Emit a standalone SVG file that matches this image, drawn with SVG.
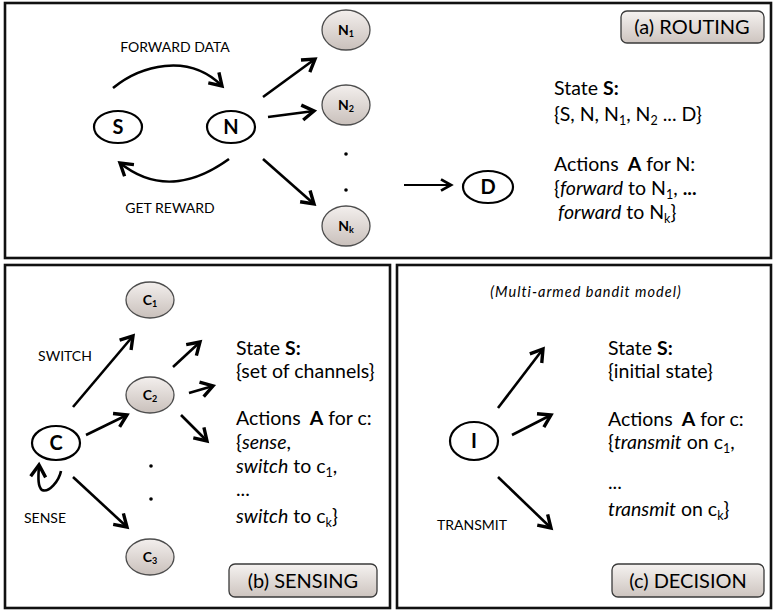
<svg xmlns="http://www.w3.org/2000/svg" width="774" height="611" viewBox="0 0 774 611">
  <defs>
    <linearGradient id="gNode" x1="0" y1="0" x2="0" y2="1">
      <stop offset="0" stop-color="#f3efed"/>
      <stop offset="1" stop-color="#c9c0bb"/>
    </linearGradient>
    <linearGradient id="gBox" x1="0" y1="0" x2="0" y2="1">
      <stop offset="0" stop-color="#f5f2f0"/>
      <stop offset="1" stop-color="#cdc4bf"/>
    </linearGradient>
    <marker id="ah" markerUnits="userSpaceOnUse" markerWidth="20" markerHeight="20" viewBox="-12 -8 14 16" refX="0" refY="0" orient="auto">
      <path d="M-9.5,-6 L0,0 L-9.5,6" fill="none" stroke="#000" stroke-width="2.7" stroke-linejoin="miter"/>
    </marker>
    <marker id="ahs" markerUnits="userSpaceOnUse" markerWidth="20" markerHeight="20" viewBox="-12 -8 14 16" refX="0" refY="0" orient="auto">
      <path d="M-8,-4.5 L0,0 L-8,4.5" fill="none" stroke="#000" stroke-width="2.2"/>
    </marker>
  </defs>
  <style>
    text { font-family: Lato, "Liberation Sans", sans-serif; fill: #000; }
    .panel { fill: #fff; stroke: #111; stroke-width: 2.6; }
    .wn { fill: #fff; stroke: #000; stroke-width: 2.2; }
    .gn { fill: url(#gNode); stroke: #4d4d4d; stroke-width: 1.3; }
    .box { fill: url(#gBox); stroke: #3a3a3a; stroke-width: 1.3; }
    .lbl { font-size: 20px; font-weight: bold; text-anchor: middle; }
    .glbl { font-size: 14px; font-weight: bold; text-anchor: middle; }
    .sub { font-size: 9px; }
    .cap { font-size: 14px; text-anchor: middle; }
    .body { font-size: 19.5px; }
    .bsub { font-size: 12.5px; }
    .title { font-size: 20px; text-anchor: middle; }
    .note { font-size: 14.5px; font-style: italic; letter-spacing: 1px; text-anchor: middle; }
    .arr { fill: none; stroke: #000; stroke-width: 2.6; marker-end: url(#ah); }
    .dot { fill: #000; }
  </style>

  <!-- panels -->
  <rect class="panel" x="5" y="3" width="766" height="255"/>
  <rect class="panel" x="5" y="265" width="385" height="343"/>
  <rect class="panel" x="397" y="265" width="374" height="343"/>

  <!-- connectors -->
  <g id="connectors">
    <path class="arr" d="M113,88 C140,66 188,52 222,86"/>
    <path class="arr" d="M229,159 C200,180 160,195 120,163"/>
    <path class="arr" d="M263,97 L315,59"/>
    <path class="arr" d="M268,117 L314,111"/>
    <path class="arr" d="M263,159 L314,204"/>
    <path fill="none" stroke="#000" stroke-width="2.2" marker-end="url(#ahs)" d="M404,185 L451,185"/>
    <circle class="dot" cx="346" cy="154" r="1.8"/>
    <circle class="dot" cx="346" cy="190" r="1.8"/>

    <path class="arr" d="M73,407 L133,336"/>
    <path class="arr" d="M86,435 L127,415"/>
    <path class="arr" d="M73,477 L127,527"/>
    <path class="arr" d="M61,471 C59,481 49,493 42,490 C38,487 38,479 39,465"/>
    <path class="arr" d="M173,367 L200,342"/>
    <path class="arr" d="M189,393 L213,386"/>
    <path class="arr" d="M181,415 L207,441"/>
    <circle class="dot" cx="151" cy="466" r="1.8"/>
    <circle class="dot" cx="151" cy="499" r="1.8"/>

    <path class="arr" d="M498,408 L543,349"/>
    <path class="arr" d="M512,435 L551,415"/>
    <path class="arr" d="M498,477 L551,528"/>
  </g>

  <!-- panel (a) -->
  <g id="node-S"><ellipse class="wn" cx="118" cy="127" rx="24" ry="16"/><text class="lbl" x="118" y="134">S</text></g>
  <g id="node-N"><ellipse class="wn" cx="231" cy="127" rx="24" ry="16"/><text class="lbl" x="231" y="134">N</text></g>
  <g id="node-N1"><ellipse class="gn" cx="346" cy="30" rx="24" ry="20"/><text class="glbl" x="346" y="35">N<tspan class="sub" dy="2">1</tspan></text></g>
  <g id="node-N2"><ellipse class="gn" cx="346" cy="105" rx="24" ry="20"/><text class="glbl" x="346" y="110">N<tspan class="sub" dy="2">2</tspan></text></g>
  <g id="node-Nk"><ellipse class="gn" cx="346" cy="226" rx="24" ry="20"/><text class="glbl" x="346" y="231">N<tspan class="sub" dy="2">k</tspan></text></g>
  <g id="node-D"><ellipse class="wn" cx="488" cy="187" rx="25" ry="16"/><text class="lbl" x="488" y="194">D</text></g>
  <text class="cap" x="175" y="52">FORWARD DATA</text>
  <text class="cap" x="170" y="213">GET REWARD</text>
  <g id="label-a"><rect class="box" x="621" y="11" width="143" height="32" rx="6"/><text class="title" x="692" y="34">(a) ROUTING</text></g>
  <g id="text-a">
    <text class="body" x="554" y="95">State <tspan font-weight="bold">S:</tspan></text>
    <text class="body" x="554" y="121">{S, N, N<tspan class="bsub" dy="4">1</tspan><tspan dy="-4">, N</tspan><tspan class="bsub" dy="4">2</tspan><tspan dy="-4"> ... D}</tspan></text>
    <text class="body" x="554" y="171">Actions <tspan dx="4" font-weight="bold">A</tspan> for N:</text>
    <text class="body" x="554" y="195">{<tspan font-style="italic">forward</tspan> to N<tspan class="bsub" dy="4">1</tspan><tspan dy="-4">, </tspan><tspan font-weight="bold">...</tspan></text>
    <text class="body" x="558" y="219"><tspan font-style="italic">forward</tspan> to N<tspan class="bsub" dy="4">k</tspan><tspan dy="-4">}</tspan></text>
  </g>

  <!-- panel (b) -->
  <g id="node-C"><ellipse class="wn" cx="56" cy="443" rx="24" ry="17"/><text class="lbl" x="56" y="450">C</text></g>
  <g id="node-C1"><ellipse class="gn" cx="150" cy="300" rx="24" ry="18"/><text class="glbl" x="150" y="305">C<tspan class="sub" dy="2">1</tspan></text></g>
  <g id="node-C2"><ellipse class="gn" cx="150" cy="395" rx="24" ry="18"/><text class="glbl" x="150" y="400">C<tspan class="sub" dy="2">2</tspan></text></g>
  <g id="node-C3"><ellipse class="gn" cx="150" cy="557" rx="24" ry="18"/><text class="glbl" x="150" y="562">C<tspan class="sub" dy="2">3</tspan></text></g>
  <text class="cap" x="65" y="361">SWITCH</text>
  <text class="cap" x="45" y="523">SENSE</text>
  <g id="label-b"><rect class="box" x="229" y="564" width="148" height="33" rx="6"/><text class="title" x="303" y="588">(b) SENSING</text></g>
  <g id="text-b">
    <text class="body" x="236" y="355">State <tspan font-weight="bold">S:</tspan></text>
    <text class="body" x="236" y="378">{set of channels}</text>
    <text class="body" x="236" y="425">Actions <tspan dx="4" font-weight="bold">A</tspan> for c:</text>
    <text class="body" x="236" y="449">{<tspan font-style="italic">sense</tspan>,</text>
    <text class="body" x="236" y="473"><tspan font-style="italic">switch</tspan> to c<tspan class="bsub" dy="4">1</tspan><tspan dy="-4">,</tspan></text>
    <text class="body" x="236" y="496">...</text>
    <text class="body" x="236" y="523"><tspan font-style="italic">switch</tspan> to c<tspan class="bsub" dy="4">k</tspan><tspan dy="-4">}</tspan></text>
  </g>

  <!-- panel (c) -->
  <text class="note" x="586" y="297">(Multi-armed bandit model)</text>
  <g id="node-I"><ellipse class="wn" cx="474" cy="441" rx="24" ry="19"/><text class="lbl" x="474" y="448">I</text></g>
  <text class="cap" x="472" y="530">TRANSMIT</text>
  <g id="label-c"><rect class="box" x="612" y="564" width="152" height="33" rx="6"/><text class="title" x="688" y="588">(c) DECISION</text></g>
  <g id="text-c">
    <text class="body" x="608" y="355">State <tspan font-weight="bold">S:</tspan></text>
    <text class="body" x="608" y="378">{initial state}</text>
    <text class="body" x="608" y="426">Actions <tspan dx="4" font-weight="bold">A</tspan> for c:</text>
    <text class="body" x="608" y="449">{<tspan font-style="italic">transmit</tspan> on c<tspan class="bsub" dy="4">1</tspan><tspan dy="-4">,</tspan></text>
    <text class="body" x="608" y="489">...</text>
    <text class="body" x="608" y="516"><tspan font-style="italic">transmit</tspan> on c<tspan class="bsub" dy="4">k</tspan><tspan dy="-4">}</tspan></text>
  </g>
</svg>
